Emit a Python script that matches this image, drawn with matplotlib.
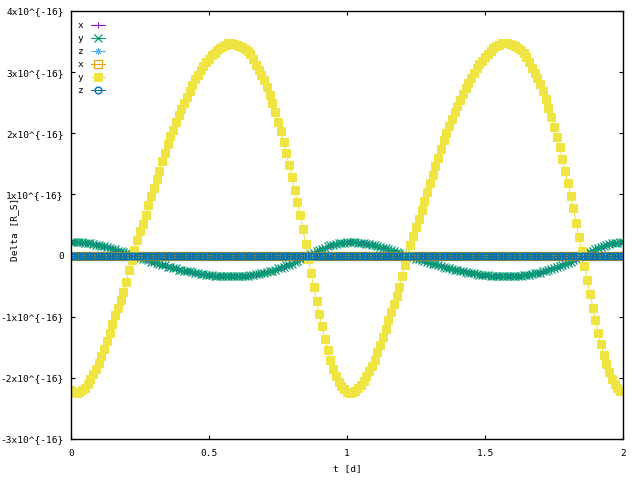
import matplotlib
matplotlib.use("Agg")
import matplotlib.pyplot as plt
import numpy as np

# time axis [d], one sample every 0.01 d
t = [round(i * 0.01, 2) for i in range(201)]

# y component (yellow squares), units of 1e-16 R_S
y2_one = [-2.20, -2.23, -2.24, -2.23, -2.20, -2.16, -2.10, -2.02, -1.94, -1.86,
          -1.76, -1.65, -1.52, -1.39, -1.27, -1.12, -0.98, -0.86, -0.73, -0.59,
          -0.43, -0.24, -0.07, 0.09, 0.25, 0.40, 0.52, 0.66, 0.82, 0.97,
          1.11, 1.26, 1.39, 1.54, 1.67, 1.83, 1.95, 2.06, 2.18, 2.30,
          2.40, 2.50, 2.60, 2.69, 2.79, 2.88, 2.95, 3.03, 3.10, 3.16,
          3.22, 3.28, 3.32, 3.37, 3.40, 3.43, 3.45, 3.47, 3.47, 3.46,
          3.45, 3.43, 3.41, 3.38, 3.34, 3.29, 3.21, 3.11, 3.03, 2.96,
          2.87, 2.75, 2.63, 2.50, 2.35, 2.19, 2.03, 1.86, 1.68, 1.48,
          1.29, 1.08, 0.88, 0.66, 0.43, 0.19, -0.05, -0.28, -0.52, -0.75,
          -0.96, -1.16, -1.36, -1.54, -1.70, -1.85, -1.97, -2.06, -2.14, -2.19]
y2_two = [-2.23, -2.24, -2.23, -2.21, -2.17, -2.12, -2.05, -1.97, -1.89, -1.80,
          -1.70, -1.58, -1.46, -1.33, -1.20, -1.06, -0.93, -0.80, -0.66, -0.51,
          -0.34, -0.16, 0.01, 0.17, 0.32, 0.46, 0.59, 0.74, 0.89, 1.04,
          1.18, 1.32, 1.46, 1.60, 1.75, 1.89, 2.01, 2.12, 2.24, 2.35,
          2.45, 2.55, 2.65, 2.74, 2.83, 2.91, 2.99, 3.07, 3.13, 3.19,
          3.25, 3.30, 3.35, 3.39, 3.42, 3.45, 3.47, 3.48, 3.47, 3.46,
          3.44, 3.42, 3.39, 3.36, 3.31, 3.25, 3.16, 3.07, 2.99, 2.91,
          2.81, 2.69, 2.56, 2.42, 2.27, 2.11, 1.94, 1.77, 1.58, 1.38,
          1.18, 0.98, 0.77, 0.54, 0.31, 0.07, -0.17, -0.40, -0.63, -0.85,
          -1.06, -1.26, -1.45, -1.62, -1.78, -1.91, -2.02, -2.10, -2.16, -2.21,
          -2.22]
y_sq = y2_one + y2_two

# y component (green x), units of 1e-16 R_S
y1_one = [0.22, 0.22, 0.22, 0.22, 0.22, 0.21, 0.21, 0.20, 0.19, 0.18,
          0.17, 0.16, 0.15, 0.14, 0.12, 0.11, 0.10, 0.08, 0.07, 0.06,
          0.04, 0.02, 0.01, -0.01, -0.02, -0.04, -0.05, -0.06, -0.08, -0.10,
          -0.11, -0.12, -0.14, -0.15, -0.16, -0.18, -0.19, -0.20, -0.21, -0.23,
          -0.24, -0.25, -0.25, -0.26, -0.27, -0.28, -0.29, -0.30, -0.30, -0.31,
          -0.32, -0.32, -0.33, -0.33, -0.33, -0.34, -0.34, -0.34, -0.34, -0.34,
          -0.34, -0.34, -0.34, -0.33, -0.33, -0.32, -0.31, -0.30, -0.30, -0.29,
          -0.28, -0.27, -0.26, -0.25, -0.23, -0.21, -0.20, -0.18, -0.16, -0.15,
          -0.13, -0.11, -0.09, -0.06, -0.04, -0.02, 0.00, 0.03, 0.05, 0.07,
          0.09, 0.11, 0.13, 0.15, 0.17, 0.18, 0.19, 0.20, 0.21, 0.21]
y1_two = [0.22, 0.22, 0.22, 0.22, 0.21, 0.21, 0.20, 0.19, 0.19, 0.18,
          0.17, 0.15, 0.14, 0.13, 0.12, 0.10, 0.09, 0.08, 0.06, 0.05,
          0.03, 0.02, 0.00, -0.02, -0.03, -0.05, -0.06, -0.07, -0.09, -0.10,
          -0.12, -0.13, -0.14, -0.16, -0.17, -0.19, -0.20, -0.21, -0.22, -0.23,
          -0.24, -0.25, -0.26, -0.27, -0.28, -0.29, -0.29, -0.30, -0.31, -0.31,
          -0.32, -0.32, -0.33, -0.33, -0.34, -0.34, -0.34, -0.34, -0.34, -0.34,
          -0.34, -0.34, -0.33, -0.33, -0.32, -0.32, -0.31, -0.30, -0.29, -0.29,
          -0.28, -0.26, -0.25, -0.24, -0.22, -0.21, -0.19, -0.17, -0.15, -0.14,
          -0.12, -0.10, -0.08, -0.05, -0.03, -0.01, 0.02, 0.04, 0.06, 0.08,
          0.10, 0.12, 0.14, 0.16, 0.17, 0.19, 0.20, 0.21, 0.21, 0.22,
          0.22]
y_cross = y1_one + y1_two

# x component (purple +) sits under the green one
x_plus = y_cross
# the remaining components are flat at zero
z_star = [0.0] * 201
x_sq = [0.0] * 201
z_circ = [0.0] * 201

scale = 1e-16
ytick_vals = [-3, -2, -1, 0, 1, 2, 3, 4]
ytick_labels = ["-3x10^{-16}", "-2x10^{-16}", "-1x10^{-16}", "0",
                "1x10^{-16}", "2x10^{-16}", "3x10^{-16}", "4x10^{-16}"]
xtick_vals = [0, 0.5, 1, 1.5, 2]
xtick_labels = ["0", "0.5", "1", "1.5", "2"]

plt.rcParams['font.family'] = ['DejaVu Sans Mono']
plt.rcParams['font.size'] = 6.8

fig = plt.figure(figsize=(6.4, 4.8), dpi=100)
ax = fig.add_axes([71 / 640, 41 / 480, 552 / 640, 428 / 480])

lw = 0.72
def draw(vals, color, marker, ms, label, filled=False, mew=lw):
    yv = np.array(vals) * scale
    ax.plot(t, yv, color=color, lw=lw, marker=marker, ms=ms, mew=mew,
            mfc=color if filled else 'none', mec=color, label=label)

draw(x_plus, '#9400d3', '+', 4.0, 'x')
draw(y_cross, '#009e73', 'x', 5.4, 'y', mew=0.9)
draw(z_star, '#56b4e9', (8, 2, 0), 4.5, 'z')
draw(x_sq, '#e69f00', 's', 5.2, 'x', mew=0.8)
draw(y_sq, '#f0e442', 's', 5.8, 'y', filled=True)
draw(z_circ, '#0072b2', 'o', 4.8, 'z', mew=1.0)

ax.set_xlim(0, 2)
ax.set_ylim(-3 * scale, 4 * scale)
ax.set_xticks(xtick_vals)
ax.set_xticklabels(xtick_labels)
ax.set_yticks([v * scale for v in ytick_vals])
ax.set_yticklabels(ytick_labels)
ax.tick_params(direction='in', length=3, width=0.8, top=True, right=True)
ax.tick_params(axis='x', pad=7)
ax.tick_params(axis='y', pad=5.3)
for s in ax.spines.values():
    s.set_linewidth(1.0)

ax.set_xlabel("t [d]", labelpad=4.5)
ax.set_ylabel("Delta [R_S]")
ax.yaxis.set_label_coords(-0.094, 0.49)

ax.legend(loc='upper left', bbox_to_anchor=(0.005, 0.985), frameon=False,
          markerfirst=False, handlelength=1.5, handletextpad=0.8,
          labelspacing=0.42, borderaxespad=0.2, borderpad=0.2)

fig.savefig("out.png", dpi=100)
